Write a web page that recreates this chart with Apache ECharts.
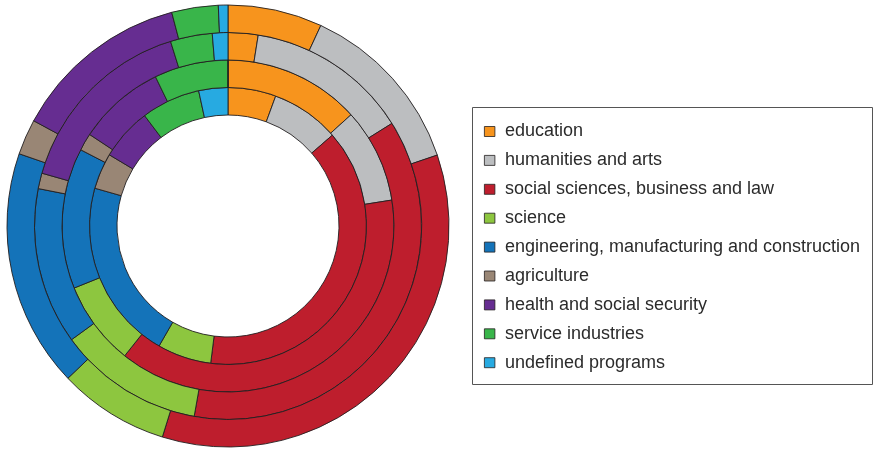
<!DOCTYPE html>
<html>
<head>
<meta charset="utf-8">
<script src="https://cdn.jsdelivr.net/npm/echarts@6/dist/echarts.min.js"></script>
<style>
  html, body { margin: 0; padding: 0; background: #ffffff; }
  #chart { width: 874px; height: 450px; }
</style>
</head>
<body>
<div id="chart"></div>
<script>
// Fields of study, in drawing order (clockwise from 12 o'clock)
const categories = [
  'education',
  'humanities and arts',
  'social sciences, business and law',
  'science',
  'engineering, manufacturing and construction',
  'agriculture',
  'health and social security',
  'service industries',
  'undefined programs'
];

const colors = ['#F7941D', '#BCBEC0', '#BE1E2D', '#8DC63F', '#1473B9', '#998675', '#662D91', '#39B54A', '#27AAE1'];

// Shares (%) per ring, innermost to outermost
const ring1 = [5.6, 8.0, 38.4, 6.3, 21.1, 4.2, 6.1, 6.9, 3.4];
const ring2 = [13.3, 9.2, 38.2, 8.2, 13.7, 1.7, 8.5, 7.2, 0];
const ring3 = [2.5, 13.6, 36.7, 12.2, 13.1, 1.3, 15.8, 3.5, 1.3];
const ring4 = [6.9, 12.9, 35.0, 8.1, 17.4, 2.6, 13.0, 3.4, 0.7];

const rings = [ring1, ring2, ring3, ring4];
const radii = [[111, 138.5], [138.5, 166], [166, 193.5], [193.5, 221]];

const series = rings.map((values, i) => ({
  type: 'pie',
  center: [228, 226],
  radius: radii[i],
  startAngle: 90,
  clockwise: true,
  avoidLabelOverlap: false,
  silent: true,
  label: { show: false },
  labelLine: { show: false },
  itemStyle: { borderColor: '#231F20', borderWidth: 0.9 },
  data: categories.map((name, j) => ({
    name: name,
    value: values[j],
    itemStyle: { color: colors[j] }
  }))
}));

const chart = echarts.init(document.getElementById('chart'), null, { renderer: 'canvas' });
chart.setOption({
  animation: false,
  backgroundColor: '#ffffff',
  color: colors,
  graphic: [{
    type: 'rect',
    shape: { x: 472.5, y: 107.5, width: 400, height: 277 },
    style: { fill: 'none', stroke: '#555555', lineWidth: 1 },
    silent: true
  }],
  legend: {
    orient: 'vertical',
    left: 484,
    top: 122.5,
    padding: [0, 0, 0, 0],
    itemWidth: 10.5,
    itemHeight: 10,
    itemGap: 10.9,
    icon: 'rect',
    selectedMode: false,
    data: categories,
    itemStyle: { borderColor: '#231F20', borderWidth: 0.8 },
    textStyle: {
      fontFamily: 'Liberation Sans, Arial, sans-serif',
      fontSize: 18,
      color: '#2B2B2B',
      padding: [0, 0, 0, 5]
    }
  },
  series: series
});
</script>
</body>
</html>
